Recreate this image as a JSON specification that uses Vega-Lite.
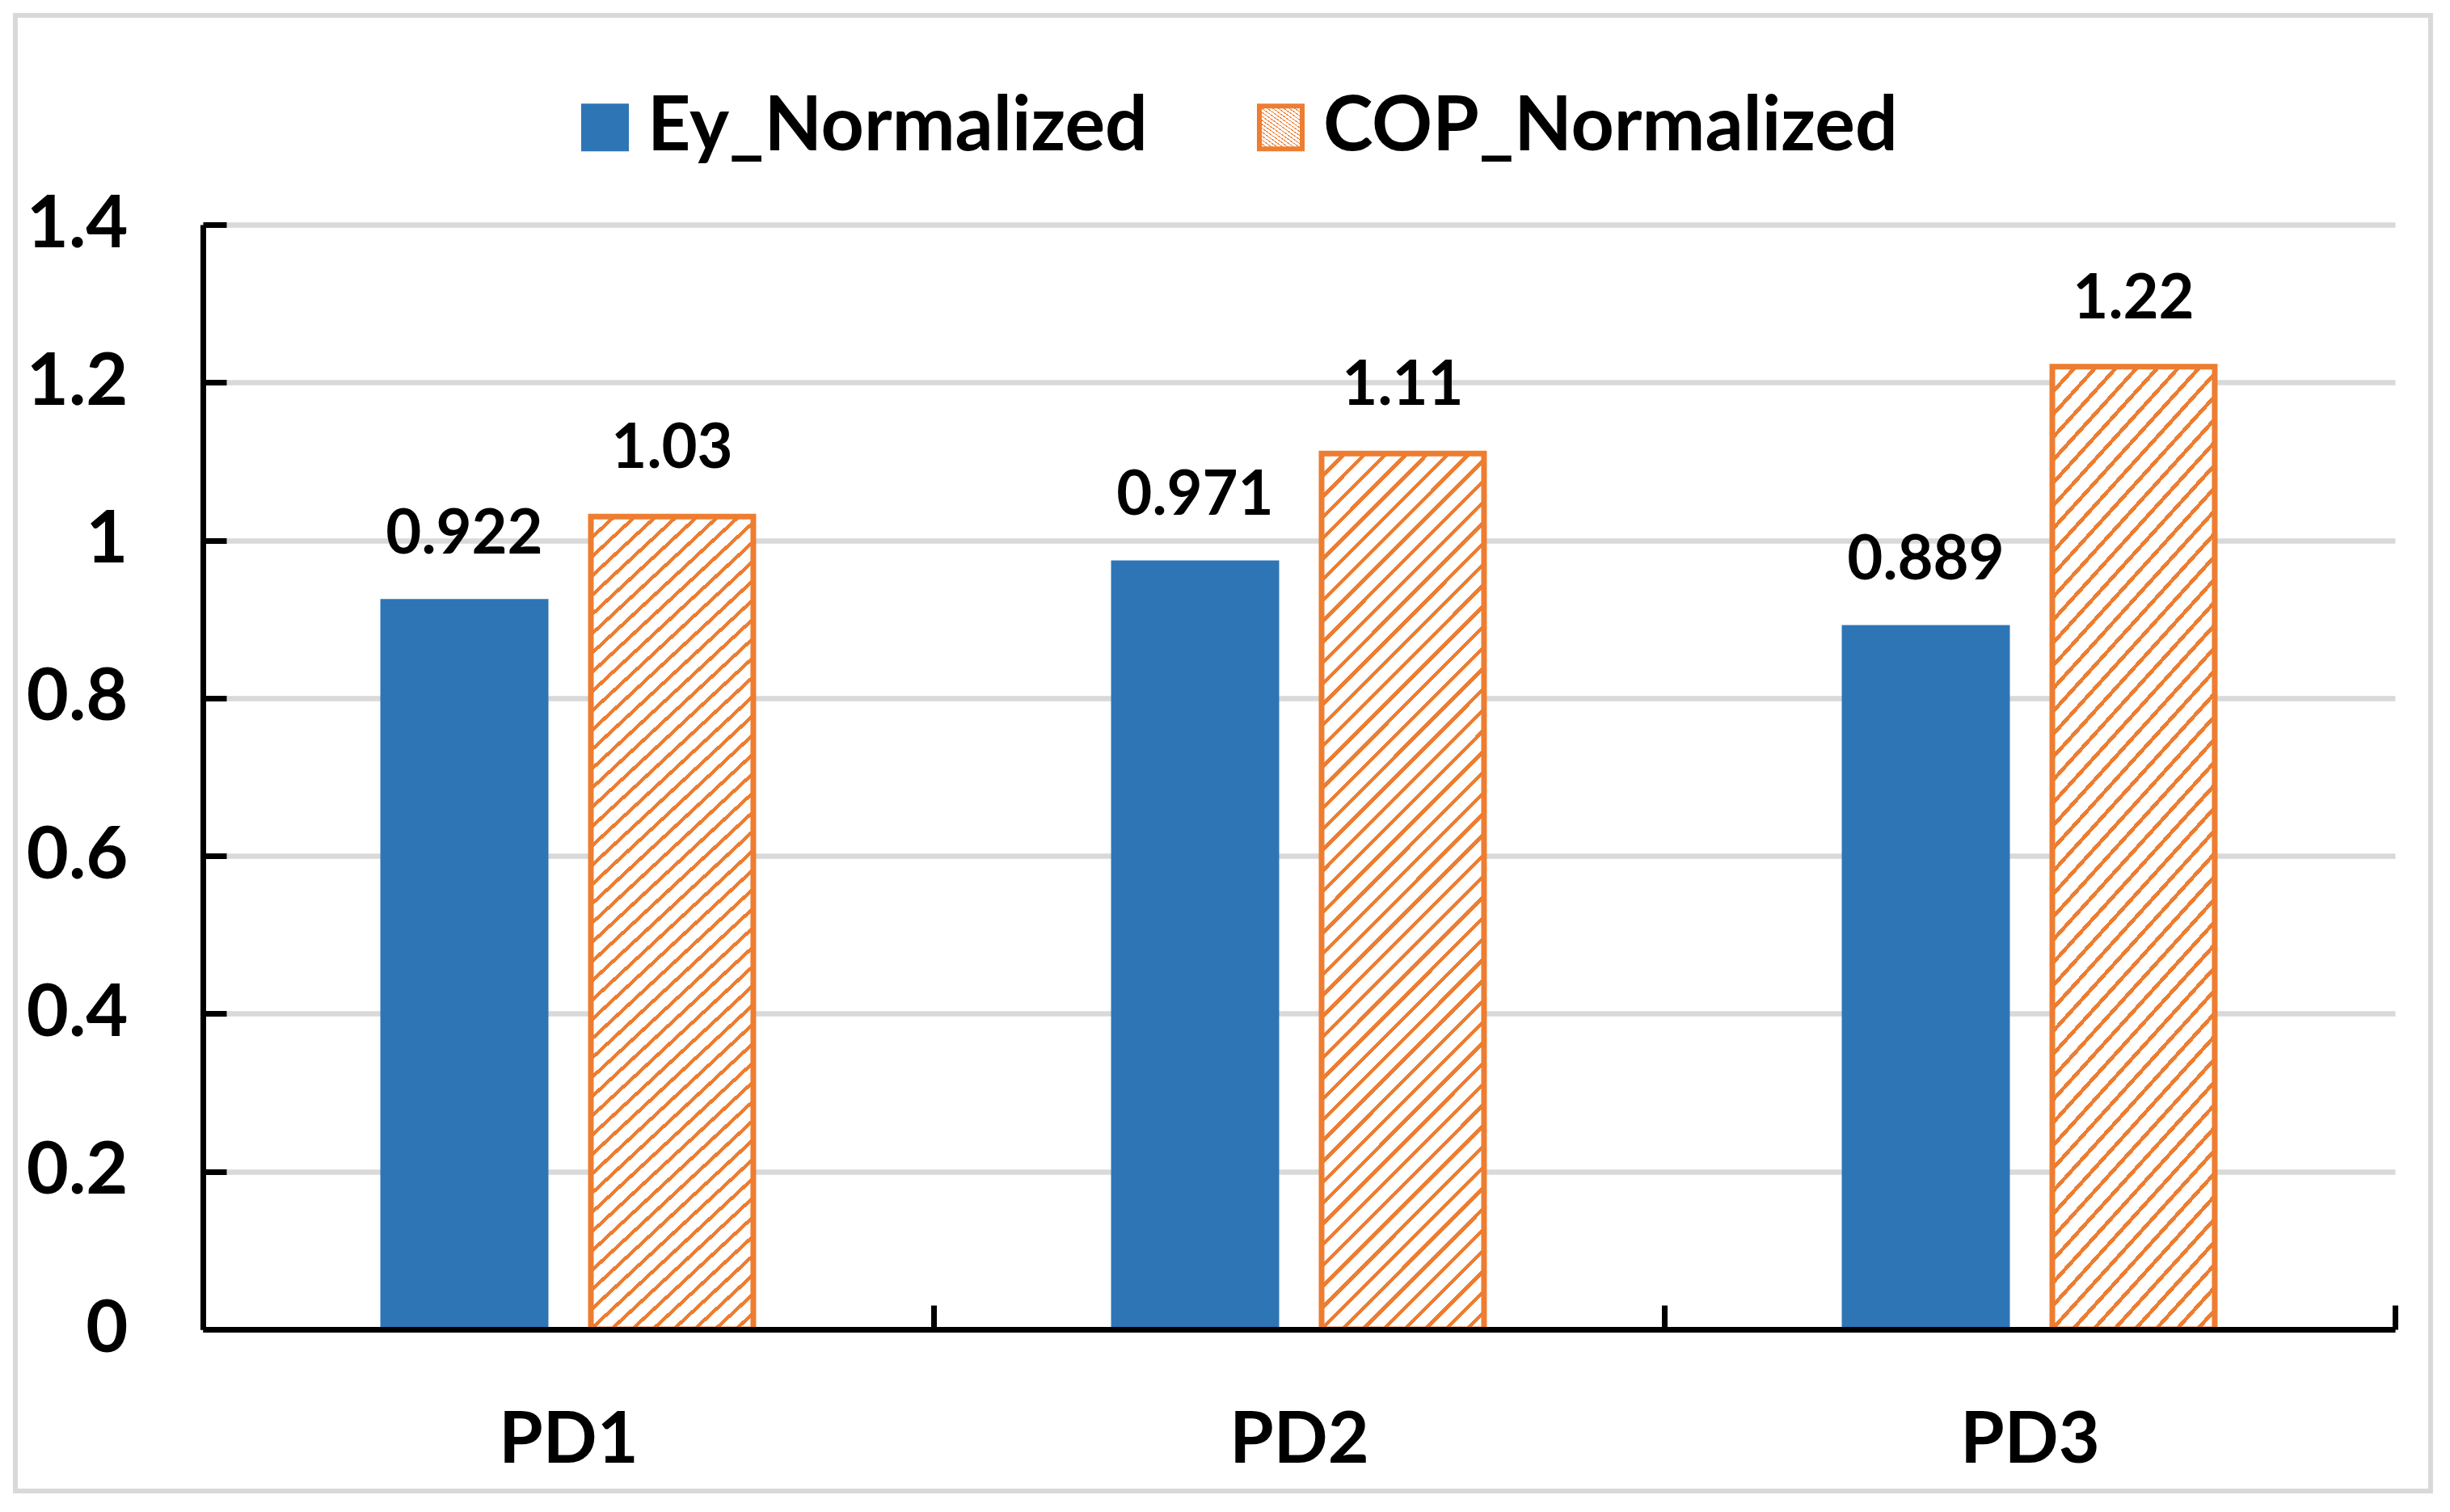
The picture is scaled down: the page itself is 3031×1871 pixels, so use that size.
{
  "$schema": "https://vega.github.io/schema/vega-lite/v6.json",
  "width": 2988,
  "height": 1826,
  "autosize": {"type": "none"},
  "padding": {"left": 19, "top": 19, "right": 24, "bottom": 26},
  "background": "white",
  "config": {
    "font": "Lato",
    "view": {"stroke": "#d9d9d9", "strokeWidth": 6},
    "legend": {
      "orient": "none", "legendX": 683, "legendY": 92, "direction": "horizontal",
      "symbolType": "square", "symbolSize": 2809, "symbolStrokeWidth": 6,
      "labelFont": "Lato", "labelFontSize": 93, "labelFontWeight": "bold", "labelColor": "black",
      "labelLimit": 2000, "labelOffset": 6, "columnPadding": 118
    }
  },
  "data": {
    "values": [
      {"pd": "PD1", "series": "Ey_Normalized", "value": 0.922},
      {"pd": "PD1", "series": "COP_Normalized", "value": 1.03},
      {"pd": "PD2", "series": "Ey_Normalized", "value": 0.971},
      {"pd": "PD2", "series": "COP_Normalized", "value": 1.11},
      {"pd": "PD3", "series": "Ey_Normalized", "value": 0.889},
      {"pd": "PD3", "series": "COP_Normalized", "value": 1.22}
    ]
  },
  "encoding": {
    "x": {
      "field": "pd", "type": "nominal", "sort": ["PD1", "PD2", "PD3"],
      "scale": {"range": [232, 2944], "paddingInner": 0, "paddingOuter": 0},
      "axis": {
        "orient": "bottom", "offset": -200, "title": null, "tickBand": "extent",
        "tickSize": -30, "tickWidth": 7, "tickColor": "black",
        "domainColor": "black", "domainWidth": 7,
        "labelFont": "Lato", "labelFontSize": 88, "labelFontWeight": "bold", "labelColor": "black",
        "labelPadding": 124, "labelAngle": 0, "grid": false, "zindex": 1
      }
    },
    "xOffset": {
      "field": "series", "type": "nominal",
      "scale": {"domain": ["Ey_Normalized", "COP_Normalized"], "paddingInner": 0.218, "paddingOuter": 0.868}
    },
    "y": {
      "field": "value", "type": "quantitative",
      "scale": {"domain": [0, 1.4], "range": [1626, 259], "nice": false, "zero": true},
      "axis": {
        "orient": "left", "offset": -232, "values": [0, 0.2, 0.4, 0.6, 0.8, 1, 1.2, 1.4],
        "format": "~g", "title": null, "grid": true, "gridColor": "#d9d9d9", "gridWidth": 6.5,
        "domainColor": "black", "domainWidth": 7, "tickColor": "black", "tickWidth": 7, "tickSize": -29,
        "labelFont": "Lato", "labelFontSize": 90, "labelFontWeight": "bold", "labelColor": "black",
        "labelPadding": 122, "zindex": 0
      }
    }
  },
  "layer": [
    {
      "mark": {"type": "bar", "strokeWidth": 7},
      "encoding": {
        "stroke": {
          "field": "series", "type": "nominal", "title": null,
          "scale": {"domain": ["Ey_Normalized", "COP_Normalized"], "range": ["#2e75b6", "#ed7d31"]}
        },
        "fill": {
          "field": "series", "type": "nominal", "title": null,
          "scale": {
            "domain": ["Ey_Normalized", "COP_Normalized"],
            "range": ["#2e75b6", {"expr": "{gradient: 'linear', x1: 0, y1: 0, x2: 0.213, y2: 1.147, stops: [{offset:0,color:'#ed7d31'},{offset:0.005,color:'#ed7d31'},{offset:0.005,color:'#fff'},{offset:0.02,color:'#fff'},{offset:0.02,color:'#ed7d31'},{offset:0.025,color:'#ed7d31'},{offset:0.025,color:'#fff'},{offset:0.04,color:'#fff'},{offset:0.04,color:'#ed7d31'},{offset:0.045,color:'#ed7d31'},{offset:0.045,color:'#fff'},{offset:0.06,color:'#fff'},{offset:0.06,color:'#ed7d31'},{offset:0.065,color:'#ed7d31'},{offset:0.065,color:'#fff'},{offset:0.08,color:'#fff'},{offset:0.08,color:'#ed7d31'},{offset:0.085,color:'#ed7d31'},{offset:0.085,color:'#fff'},{offset:0.1,color:'#fff'},{offset:0.1,color:'#ed7d31'},{offset:0.105,color:'#ed7d31'},{offset:0.105,color:'#fff'},{offset:0.12,color:'#fff'},{offset:0.12,color:'#ed7d31'},{offset:0.125,color:'#ed7d31'},{offset:0.125,color:'#fff'},{offset:0.14,color:'#fff'},{offset:0.14,color:'#ed7d31'},{offset:0.145,color:'#ed7d31'},{offset:0.145,color:'#fff'},{offset:0.16,color:'#fff'},{offset:0.16,color:'#ed7d31'},{offset:0.165,color:'#ed7d31'},{offset:0.165,color:'#fff'},{offset:0.18,color:'#fff'},{offset:0.18,color:'#ed7d31'},{offset:0.185,color:'#ed7d31'},{offset:0.185,color:'#fff'},{offset:0.2,color:'#fff'},{offset:0.2,color:'#ed7d31'},{offset:0.205,color:'#ed7d31'},{offset:0.205,color:'#fff'},{offset:0.22,color:'#fff'},{offset:0.22,color:'#ed7d31'},{offset:0.225,color:'#ed7d31'},{offset:0.225,color:'#fff'},{offset:0.24,color:'#fff'},{offset:0.24,color:'#ed7d31'},{offset:0.245,color:'#ed7d31'},{offset:0.245,color:'#fff'},{offset:0.26,color:'#fff'},{offset:0.26,color:'#ed7d31'},{offset:0.265,color:'#ed7d31'},{offset:0.265,color:'#fff'},{offset:0.28,color:'#fff'},{offset:0.28,color:'#ed7d31'},{offset:0.285,color:'#ed7d31'},{offset:0.285,color:'#fff'},{offset:0.3,color:'#fff'},{offset:0.3,color:'#ed7d31'},{offset:0.305,color:'#ed7d31'},{offset:0.305,color:'#fff'},{offset:0.32,color:'#fff'},{offset:0.32,color:'#ed7d31'},{offset:0.325,color:'#ed7d31'},{offset:0.325,color:'#fff'},{offset:0.34,color:'#fff'},{offset:0.34,color:'#ed7d31'},{offset:0.345,color:'#ed7d31'},{offset:0.345,color:'#fff'},{offset:0.36,color:'#fff'},{offset:0.36,color:'#ed7d31'},{offset:0.365,color:'#ed7d31'},{offset:0.365,color:'#fff'},{offset:0.38,color:'#fff'},{offset:0.38,color:'#ed7d31'},{offset:0.385,color:'#ed7d31'},{offset:0.385,color:'#fff'},{offset:0.4,color:'#fff'},{offset:0.4,color:'#ed7d31'},{offset:0.405,color:'#ed7d31'},{offset:0.405,color:'#fff'},{offset:0.42,color:'#fff'},{offset:0.42,color:'#ed7d31'},{offset:0.425,color:'#ed7d31'},{offset:0.425,color:'#fff'},{offset:0.44,color:'#fff'},{offset:0.44,color:'#ed7d31'},{offset:0.445,color:'#ed7d31'},{offset:0.445,color:'#fff'},{offset:0.46,color:'#fff'},{offset:0.46,color:'#ed7d31'},{offset:0.465,color:'#ed7d31'},{offset:0.465,color:'#fff'},{offset:0.48,color:'#fff'},{offset:0.48,color:'#ed7d31'},{offset:0.485,color:'#ed7d31'},{offset:0.485,color:'#fff'},{offset:0.5,color:'#fff'},{offset:0.5,color:'#ed7d31'},{offset:0.505,color:'#ed7d31'},{offset:0.505,color:'#fff'},{offset:0.52,color:'#fff'},{offset:0.52,color:'#ed7d31'},{offset:0.525,color:'#ed7d31'},{offset:0.525,color:'#fff'},{offset:0.54,color:'#fff'},{offset:0.54,color:'#ed7d31'},{offset:0.545,color:'#ed7d31'},{offset:0.545,color:'#fff'},{offset:0.56,color:'#fff'},{offset:0.56,color:'#ed7d31'},{offset:0.565,color:'#ed7d31'},{offset:0.565,color:'#fff'},{offset:0.58,color:'#fff'},{offset:0.58,color:'#ed7d31'},{offset:0.585,color:'#ed7d31'},{offset:0.585,color:'#fff'},{offset:0.6,color:'#fff'},{offset:0.6,color:'#ed7d31'},{offset:0.605,color:'#ed7d31'},{offset:0.605,color:'#fff'},{offset:0.62,color:'#fff'},{offset:0.62,color:'#ed7d31'},{offset:0.625,color:'#ed7d31'},{offset:0.625,color:'#fff'},{offset:0.64,color:'#fff'},{offset:0.64,color:'#ed7d31'},{offset:0.645,color:'#ed7d31'},{offset:0.645,color:'#fff'},{offset:0.66,color:'#fff'},{offset:0.66,color:'#ed7d31'},{offset:0.665,color:'#ed7d31'},{offset:0.665,color:'#fff'},{offset:0.68,color:'#fff'},{offset:0.68,color:'#ed7d31'},{offset:0.685,color:'#ed7d31'},{offset:0.685,color:'#fff'},{offset:0.7,color:'#fff'},{offset:0.7,color:'#ed7d31'},{offset:0.705,color:'#ed7d31'},{offset:0.705,color:'#fff'},{offset:0.72,color:'#fff'},{offset:0.72,color:'#ed7d31'},{offset:0.725,color:'#ed7d31'},{offset:0.725,color:'#fff'},{offset:0.74,color:'#fff'},{offset:0.74,color:'#ed7d31'},{offset:0.745,color:'#ed7d31'},{offset:0.745,color:'#fff'},{offset:0.76,color:'#fff'},{offset:0.76,color:'#ed7d31'},{offset:0.765,color:'#ed7d31'},{offset:0.765,color:'#fff'},{offset:0.78,color:'#fff'},{offset:0.78,color:'#ed7d31'},{offset:0.785,color:'#ed7d31'},{offset:0.785,color:'#fff'},{offset:0.8,color:'#fff'},{offset:0.8,color:'#ed7d31'},{offset:0.805,color:'#ed7d31'},{offset:0.805,color:'#fff'},{offset:0.82,color:'#fff'},{offset:0.82,color:'#ed7d31'},{offset:0.825,color:'#ed7d31'},{offset:0.825,color:'#fff'},{offset:0.84,color:'#fff'},{offset:0.84,color:'#ed7d31'},{offset:0.845,color:'#ed7d31'},{offset:0.845,color:'#fff'},{offset:0.86,color:'#fff'},{offset:0.86,color:'#ed7d31'},{offset:0.865,color:'#ed7d31'},{offset:0.865,color:'#fff'},{offset:0.88,color:'#fff'},{offset:0.88,color:'#ed7d31'},{offset:0.885,color:'#ed7d31'},{offset:0.885,color:'#fff'},{offset:0.9,color:'#fff'},{offset:0.9,color:'#ed7d31'},{offset:0.905,color:'#ed7d31'},{offset:0.905,color:'#fff'},{offset:0.92,color:'#fff'},{offset:0.92,color:'#ed7d31'},{offset:0.925,color:'#ed7d31'},{offset:0.925,color:'#fff'},{offset:0.94,color:'#fff'},{offset:0.94,color:'#ed7d31'},{offset:0.945,color:'#ed7d31'},{offset:0.945,color:'#fff'},{offset:0.96,color:'#fff'},{offset:0.96,color:'#ed7d31'},{offset:0.965,color:'#ed7d31'},{offset:0.965,color:'#fff'},{offset:0.98,color:'#fff'},{offset:0.98,color:'#ed7d31'},{offset:0.985,color:'#ed7d31'},{offset:0.985,color:'#fff'},{offset:1,color:'#fff'}]}"}]
          }
        }
      }
    },
    {
      "mark": {"type": "text", "font": "Lato", "fontSize": 76, "fontWeight": "bold", "color": "black", "baseline": "alphabetic", "align": "center", "dy": -60},
      "encoding": {
        "text": {"field": "value", "type": "quantitative", "format": "~g"}
      }
    }
  ]
}
